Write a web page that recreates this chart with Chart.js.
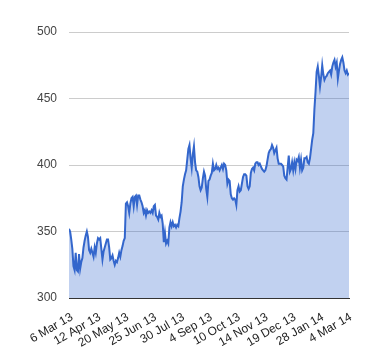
<!DOCTYPE html>
<html>
<head>
<meta charset="utf-8">
<script src="https://cdn.jsdelivr.net/npm/chart.js@4/dist/chart.umd.min.js"></script>
<style>
  html, body { margin: 0; padding: 0; background: #fff; }
  #wrap { width: 380px; height: 360px; position: relative; }
</style>
</head>
<body>
<div id="wrap"><canvas id="c" width="380" height="360"></canvas></div>
<script>
// Tick labels (one every 25 trading days)
const tickLabels = ["6 Mar 13", "12 Apr 13", "20 May 13", "25 Jun 13", "30 Jul 13",
  "4 Sep 13", "10 Oct 13", "14 Nov 13", "19 Dec 13", "28 Jan 14", "4 Mar 14"];
const tickEvery = 25;

// Daily closing values
const prices = [
  352,350,344,337,324,321,334,321,320,333,322,327,330,338,343,347,350,346,336,334,
  337,334,331,338,334,341,345,344,345,337,329,335,338,341,344,344,338,329,330,332,
  328,325,328,327,330,334,331,336,339,343,345,
  371,372,369,364,371,375,376,369,376,377,370,377,377,374,372,369,364,366,362,366,
  364,365,364,366,364,369,370,362,361,359,364,361,362,356,342,349,341,343,341,353,
  357,354,357,354,355,353,355,354,360,
  365,372,384,389,393,396,404,412,415,405,398,408,414,402,396,395,391,384,381,383,
  390,395,392,382,376,388,389,392,394,401,396,397,400,397,398,396,398,400,397,401,
  400,396,386,389,
  388,378,375,374,375,374,370,381,384,380,381,386,391,393,393,392,384,382,384,394,
  397,398,396,401,402,402,400,401,399,397,396,395,396,399,404,409,411,412,415,413,
  409,411,413,405,401,401,401,400,399,
  392,390,389,398,407,395,397,402,396,402,397,404,403,406,398,404,396,398,405,405,
  406,402,401,405,412,419,424,
  442,455,470,474,467,459,466,475,468,464,466,467,469,470,471,468,474,477,479,474,
  477,465,471,476,479,481,477,471,469,471,468,469
];

const yMin = 300, yMax = 500, yStep = 50;

const points = prices.map((v, i) => ({ x: i, y: v }));

new Chart(document.getElementById('c'), {
  type: 'line',
  data: {
    datasets: [{
      data: points,
      borderColor: '#3366cc',
      borderWidth: 2,
      backgroundColor: 'rgba(51,102,204,0.3)',
      fill: 'start',
      pointRadius: 0,
      tension: 0
    }]
  },
  options: {
    responsive: false,
    animation: false,
    events: [],
    layout: { padding: { left: 0, right: 31, top: 32, bottom: 0 } },
    plugins: { legend: { display: false }, tooltip: { enabled: false } },
    scales: {
      x: {
        type: 'linear',
        min: 0,
        max: prices.length - 1,
        grid: { display: false, drawTicks: false },
        border: { display: true, color: '#333', width: 1 },
        afterBuildTicks: (s) => {
          s.ticks = tickLabels.map((_, i) => ({ value: i * tickEvery }));
        },
        ticks: {
          autoSkip: false,
          maxRotation: 30,
          minRotation: 30,
          padding: 12,
          labelOffset: 3,
          color: '#222',
          font: { family: 'Liberation Sans, Arial, sans-serif', size: 12 },
          callback: (v) => tickLabels[Math.round(v / tickEvery)]
        },
        afterFit: (s) => { s.height = 62; }
      },
      y: {
        min: yMin,
        max: yMax,
        grid: {
          color: (ctx) => (ctx.tick && ctx.tick.value === yMin ? 'rgba(0,0,0,0)' : '#cccccc'),
          drawTicks: false
        },
        border: { display: false },
        ticks: {
          stepSize: yStep,
          padding: 12,
          color: '#444',
          font: { family: 'Liberation Sans, Arial, sans-serif', size: 12 }
        },
        afterFit: (s) => { s.width = 69; }
      }
    }
  }
});
</script>
</body>
</html>
